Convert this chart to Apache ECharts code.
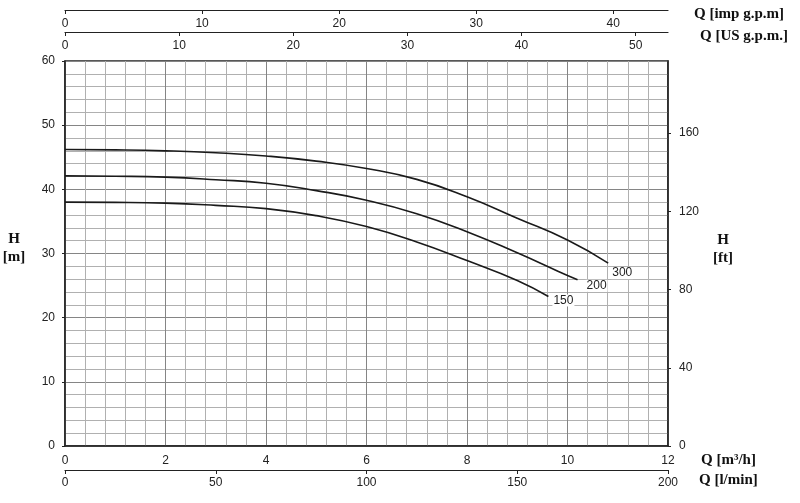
<!DOCTYPE html>
<html>
<head>
<meta charset="utf-8">
<script src="https://cdn.jsdelivr.net/npm/echarts@6/dist/echarts.min.js"></script>
<style>html,body{margin:0;padding:0;background:#fff}#c{width:800px;height:503px}</style>
</head>
<body>
<div id="c"></div>
<script>
// Flow in m3/h and head in m for each curve
const q300 = [0, 1, 2, 3, 4, 5, 6, 7, 8, 9, 10, 10.81];
const h300 = [46.2, 46.15, 46.0, 45.7, 45.2, 44.4, 43.25, 41.55, 38.85, 35.5, 32.1, 28.5];
const q200 = [0, 1, 2, 3, 4, 5, 6, 7, 8, 9, 9.82, 10.2];
const h200 = [42.1, 42.05, 41.9, 41.5, 40.95, 39.8, 38.3, 36.2, 33.4, 30.1, 27.2, 25.9];
const q150 = [0, 1, 2, 3, 4, 5, 6, 7, 8, 9, 9.62];
const h150 = [38.0, 37.97, 37.85, 37.5, 37.0, 35.9, 34.2, 31.8, 28.9, 25.8, 23.3];
const curveNames = ['300', '200', '150'];

// Axis ranges
const qM3hMax = 12;
const qLminMax = 200;
const qImpMax = qLminMax / 4.54609;
const qUSMax = qLminMax / 3.785411784;
const hMax = 60;
const hFtMax = hMax * 3.28084;

const tickFont = { fontFamily: 'Liberation Sans, Arial, sans-serif', fontSize: 12, color: '#222' };
const nameFont = { fontFamily: 'Liberation Serif, Times New Roman, serif', fontSize: 15, fontWeight: 'bold', fill: '#111' };

function pts(q, h) { return q.map((v, i) => [v, h[i]]); }

const chart = echarts.init(document.getElementById('c'), null, { renderer: 'canvas' });

const majorLine = { show: true, lineStyle: { color: '#858585', width: 1 } };
const minorLine = { show: true, lineStyle: { color: '#b0b0b0', width: 1 } };

function curve(name, q, h, off) {
  return {
    type: 'line', name: name, xAxisIndex: 0, yAxisIndex: 0,
    data: pts(q, h), smooth: true, showSymbol: false, symbol: 'none',
    lineStyle: { color: '#1a1a1a', width: 1.6 },
    endLabel: { show: true, formatter: name, offset: off, color: '#222',
      fontFamily: 'Liberation Sans, Arial, sans-serif', fontSize: 12,
      backgroundColor: '#fff', padding: [0, 1] },
    z: 5
  };
}

chart.setOption({
  animation: false,
  grid: { left: 65, right: 132, top: 61, bottom: 57, show: true, borderColor: '#222', borderWidth: 1.5, backgroundColor: '#fff' },
  xAxis: [
    { type: 'value', position: 'bottom', min: 0, max: qM3hMax, interval: 2,
      axisLine: { show: true, onZero: false, lineStyle: { color: '#222', width: 1.5 } },
      axisTick: { show: false },
      axisLabel: Object.assign({ margin: 9 }, tickFont),
      splitLine: majorLine,
      minorTick: { show: false, splitNumber: 5 },
      minorSplitLine: minorLine },
    { type: 'value', position: 'bottom', offset: 24, min: 0, max: qLminMax, interval: 50,
      axisLine: { show: true, onZero: false, lineStyle: { color: '#222', width: 1.2 } },
      axisTick: { show: true, inside: false, length: 4, lineStyle: { color: '#222' } },
      axisLabel: Object.assign({ margin: 7 }, tickFont),
      splitLine: { show: false } },
    { type: 'value', position: 'top', offset: 51, min: 0, max: qImpMax, interval: 10,
      axisLine: { show: true, onZero: false, lineStyle: { color: '#222', width: 1.2 } },
      axisTick: { show: true, inside: true, length: 4, lineStyle: { color: '#222' } },
      axisLabel: Object.assign({ inside: true, margin: 8, showMaxLabel: false }, tickFont),
      splitLine: { show: false } },
    { type: 'value', position: 'top', offset: 29, min: 0, max: qUSMax, interval: 10,
      axisLine: { show: true, onZero: false, lineStyle: { color: '#222', width: 1.2 } },
      axisTick: { show: true, inside: true, length: 4, lineStyle: { color: '#222' } },
      axisLabel: Object.assign({ inside: true, margin: 8, showMaxLabel: false }, tickFont),
      splitLine: { show: false } }
  ],
  yAxis: [
    { type: 'value', position: 'left', min: 0, max: hMax, interval: 10,
      axisLine: { show: true, onZero: false, lineStyle: { color: '#222', width: 1.5 } },
      axisTick: { show: true, length: 3, lineStyle: { color: '#222' } },
      axisLabel: Object.assign({ margin: 10 }, tickFont),
      splitLine: majorLine,
      minorTick: { show: false, splitNumber: 5 },
      minorSplitLine: minorLine },
    { type: 'value', position: 'right', min: 0, max: hFtMax, interval: 40,
      axisLine: { show: true, onZero: false, lineStyle: { color: '#222', width: 1.5 } },
      axisTick: { show: true, length: 3, lineStyle: { color: '#222' } },
      axisLabel: Object.assign({ margin: 11, showMaxLabel: false }, tickFont),
      splitLine: { show: false } }
  ],
  series: [
    curve(curveNames[0], q300, h300, [-5, 10]),
    curve(curveNames[1], q200, h200, [0, 6]),
    curve(curveNames[2], q150, h150, [-4, 4])
  ],
  graphic: [
    { type: 'text', left: 694, top: 7, style: Object.assign({ text: 'Q [imp g.p.m]' }, nameFont) },
    { type: 'text', left: 700, top: 29, style: Object.assign({ text: 'Q [US g.p.m.]' }, nameFont) },
    { type: 'text', left: 701, top: 453, style: Object.assign({ text: 'Q [m³/h]' }, nameFont) },
    { type: 'text', left: 699, top: 473, style: Object.assign({ text: 'Q [l/min]' }, nameFont) },
    { type: 'text', x: 14, y: 248, style: Object.assign({ text: 'H\n[m]', align: 'center', verticalAlign: 'middle', lineHeight: 18 }, nameFont) },
    { type: 'text', x: 723, y: 249, style: Object.assign({ text: 'H\n[ft]', align: 'center', verticalAlign: 'middle', lineHeight: 18 }, nameFont) }
  ]
});
</script>
</body>
</html>
